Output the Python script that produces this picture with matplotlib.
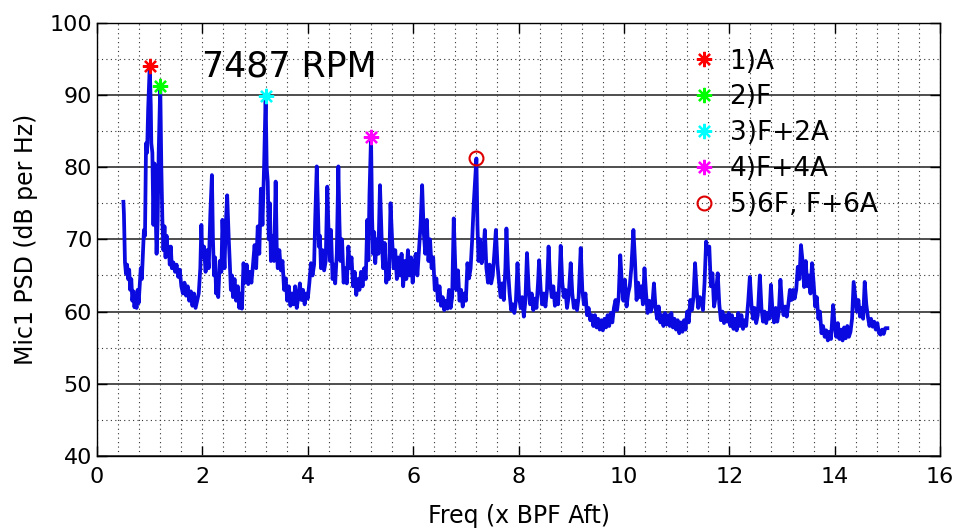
import matplotlib
matplotlib.use('Agg')
import matplotlib.pyplot as plt
from matplotlib.ticker import MultipleLocator

# PSD trace (x in multiples of aft BPF, y in dB per Hz)
freq = [0.50, 0.51, 0.52, 0.53, 0.55, 0.57, 0.59, 0.61, 0.63, 0.65, 0.67, 0.69, 0.71, 0.73, 0.75, 0.77,
        0.79, 0.81, 0.83, 0.85, 0.87, 0.89, 0.91, 0.93, 0.95, 0.97, 1.00, 1.02, 1.03, 1.05, 1.07, 1.09,
        1.11, 1.13, 1.15, 1.17, 1.20, 1.22, 1.24, 1.26, 1.28, 1.30, 1.32, 1.34, 1.36, 1.38, 1.40, 1.42,
        1.45, 1.48, 1.51, 1.54, 1.57, 1.60, 1.63, 1.66, 1.69, 1.72, 1.75, 1.78, 1.81, 1.84, 1.87, 1.90,
        1.93, 1.96, 1.98, 2.00, 2.03, 2.06, 2.09, 2.12, 2.15, 2.18, 2.20, 2.22, 2.24, 2.26, 2.28, 2.30,
        2.33, 2.36, 2.38, 2.40, 2.42, 2.44, 2.47, 2.50, 2.52, 2.54, 2.56, 2.58, 2.61, 2.64, 2.67, 2.70,
        2.73, 2.75, 2.78, 2.81, 2.84, 2.87, 2.90, 2.93, 2.96, 2.99, 3.02, 3.05, 3.08, 3.11, 3.14, 3.17,
        3.20, 3.22, 3.24, 3.26, 3.28, 3.30, 3.33, 3.36, 3.39, 3.41, 3.43, 3.46, 3.49, 3.52, 3.55, 3.58,
        3.61, 3.64, 3.67, 3.70, 3.73, 3.76, 3.79, 3.82, 3.85, 3.88, 3.91, 3.94, 3.97, 4.00, 4.03, 4.06,
        4.09, 4.12, 4.14, 4.17, 4.19, 4.21, 4.23, 4.25, 4.28, 4.31, 4.34, 4.37, 4.39, 4.42, 4.44, 4.47,
        4.50, 4.52, 4.55, 4.58, 4.60, 4.62, 4.65, 4.68, 4.71, 4.74, 4.77, 4.80, 4.83, 4.86, 4.89, 4.92,
        4.95, 4.98, 5.01, 5.04, 5.07, 5.10, 5.13, 5.15, 5.17, 5.20, 5.22, 5.24, 5.26, 5.28, 5.31, 5.34,
        5.37, 5.40, 5.43, 5.46, 5.49, 5.52, 5.54, 5.57, 5.60, 5.63, 5.66, 5.69, 5.72, 5.75, 5.78, 5.81,
        5.84, 5.87, 5.90, 5.93, 5.96, 5.99, 6.02, 6.05, 6.08, 6.11, 6.14, 6.17, 6.20, 6.23, 6.26, 6.29,
        6.32, 6.35, 6.38, 6.41, 6.44, 6.47, 6.50, 6.53, 6.56, 6.59, 6.62, 6.65, 6.68, 6.71, 6.74, 6.77,
        6.80, 6.82, 6.85, 6.88, 6.91, 6.94, 6.97, 7.00, 7.03, 7.06, 7.09, 7.12, 7.15, 7.20, 7.22, 7.24,
        7.27, 7.30, 7.33, 7.36, 7.39, 7.42, 7.45, 7.48, 7.51, 7.54, 7.57, 7.60, 7.63, 7.66, 7.69, 7.72,
        7.75, 7.77, 7.80, 7.83, 7.86, 7.89, 7.92, 7.95, 7.98, 8.01, 8.04, 8.07, 8.10, 8.13, 8.16, 8.19,
        8.22, 8.25, 8.28, 8.31, 8.34, 8.37, 8.39, 8.42, 8.45, 8.48, 8.51, 8.54, 8.57, 8.60, 8.63, 8.66,
        8.69, 8.72, 8.75, 8.78, 8.80, 8.83, 8.86, 8.89, 8.92, 8.95, 8.99, 9.02, 9.05, 9.08, 9.11, 9.14,
        9.18, 9.21, 9.24, 9.27, 9.30, 9.33, 9.36, 9.39, 9.42, 9.45, 9.48, 9.51, 9.54, 9.57, 9.60, 9.63,
        9.66, 9.69, 9.72, 9.75, 9.78, 9.81, 9.84, 9.87, 9.90, 9.93, 9.96, 9.99, 10.02, 10.05, 10.08, 10.11,
        10.14, 10.18, 10.21, 10.24, 10.27, 10.30, 10.33, 10.36, 10.39, 10.42, 10.45, 10.48, 10.51, 10.54,
        10.57, 10.60, 10.63, 10.66, 10.69, 10.72, 10.75, 10.78, 10.81, 10.84, 10.87, 10.90, 10.93, 10.96,
        10.99, 11.02, 11.05, 11.08, 11.11, 11.14, 11.17, 11.20, 11.23, 11.26, 11.29, 11.32, 11.35, 11.38,
        11.41, 11.44, 11.47, 11.50, 11.53, 11.56, 11.59, 11.62, 11.65, 11.68, 11.71, 11.74, 11.78, 11.81,
        11.84, 11.87, 11.90, 11.93, 11.96, 11.99, 12.02, 12.05, 12.08, 12.11, 12.14, 12.17, 12.20, 12.23,
        12.26, 12.29, 12.32, 12.36, 12.39, 12.42, 12.45, 12.48, 12.51, 12.54, 12.58, 12.61, 12.64, 12.67,
        12.70, 12.73, 12.76, 12.79, 12.82, 12.85, 12.88, 12.91, 12.94, 12.97, 13.00, 13.03, 13.06, 13.09,
        13.12, 13.15, 13.18, 13.21, 13.24, 13.27, 13.30, 13.33, 13.36, 13.39, 13.42, 13.45, 13.48, 13.51,
        13.54, 13.57, 13.60, 13.63, 13.66, 13.69, 13.72, 13.75, 13.78, 13.81, 13.84, 13.87, 13.90, 13.93,
        13.97, 14.00, 14.03, 14.06, 14.09, 14.12, 14.15, 14.18, 14.21, 14.24, 14.27, 14.30, 14.33, 14.36,
        14.39, 14.42, 14.45, 14.48, 14.51, 14.54, 14.57, 14.60, 14.63, 14.66, 14.69, 14.72, 14.75, 14.78,
        14.81, 14.84, 14.87, 14.90, 14.93, 14.96, 15.00]

psd = [75.2, 73.6, 70.0, 66.8, 65.2, 66.5, 64.5, 65.8, 63.0, 64.5, 61.5, 62.8, 60.6, 62.0, 60.5, 63.0,
       61.2, 63.5, 66.0, 64.5, 68.0, 71.3, 70.5, 83.3, 82.0, 88.0, 94.0, 88.5, 83.3, 82.0, 72.0, 80.5,
       74.0, 68.0, 72.5, 82.0, 91.3, 80.0, 72.7, 68.5, 71.8, 67.5, 70.5, 68.0, 69.0, 66.5, 69.0, 66.0,
       66.8, 65.5, 66.5, 64.8, 65.8, 63.5, 62.5, 64.0, 62.2, 63.5, 61.5, 62.8, 60.8, 62.5, 60.5, 61.5,
       62.5, 66.0, 72.0, 67.5, 69.0, 65.5, 68.5, 66.0, 73.5, 78.9, 70.0, 65.0, 67.5, 62.5, 64.0, 62.0,
       67.0, 65.5, 72.7, 69.0, 66.0, 71.5, 76.1, 70.0, 66.7, 63.0, 65.0, 62.0, 64.5, 61.5, 63.5, 60.5,
       62.5, 60.4, 66.7, 64.0, 66.5, 63.8, 65.5, 64.0, 66.5, 69.2, 66.0, 71.8, 68.0, 77.0, 72.0, 80.0,
       89.9, 80.0, 78.0, 70.0, 75.0, 67.0, 70.5, 67.0, 78.0, 69.0, 66.0, 68.5, 65.7, 67.0, 63.0, 64.6,
       61.5, 63.5, 60.8, 62.5, 61.0, 63.5, 60.5, 62.0, 63.9, 61.6, 63.0, 61.0, 62.5, 61.8, 64.0, 66.7,
       65.0, 66.5, 72.7, 80.1, 75.0, 69.0, 70.5, 66.0, 68.5, 65.7, 67.0, 77.3, 72.0, 67.0, 71.3, 64.5,
       66.5, 63.9, 68.0, 80.1, 72.5, 67.0, 70.0, 64.0, 66.0, 63.9, 69.0, 66.0, 67.5, 63.5, 65.5, 62.3,
       64.5, 63.0, 65.5, 63.5, 66.0, 64.5, 72.7, 67.1, 76.0, 84.2, 73.0, 68.0, 71.0, 66.7, 70.0, 68.0,
       77.5, 70.5, 66.0, 69.5, 64.0, 66.5, 64.5, 75.0, 70.0, 66.0, 68.5, 64.5, 67.5, 65.0, 68.0, 63.5,
       67.0, 64.5, 68.5, 65.0, 67.5, 64.0, 66.5, 68.0, 65.0, 68.5, 72.0, 77.5, 71.0, 68.0, 72.7, 67.0,
       70.0, 66.0, 67.5, 63.0, 64.6, 61.5, 63.5, 60.8, 62.0, 60.2, 61.5, 60.4, 63.0, 60.5, 62.0, 72.9,
       66.0, 63.0, 65.7, 61.5, 63.0, 60.7, 62.5, 61.5, 66.7, 64.6, 66.0, 70.0, 75.0, 81.2, 72.0, 67.0,
       70.0, 66.7, 68.0, 71.3, 66.0, 64.0, 66.5, 63.9, 65.0, 68.0, 71.3, 66.5, 64.0, 62.0, 63.9, 61.6,
       66.0, 71.5, 65.8, 62.5, 60.2, 61.0, 59.8, 61.5, 66.7, 62.0, 60.5, 62.0, 59.3, 61.5, 68.1, 63.4,
       61.0, 62.5, 60.2, 61.8, 60.5, 64.0, 67.1, 63.0, 61.0, 62.5, 60.7, 63.0, 69.0, 64.0, 62.0, 63.5,
       60.8, 62.5, 61.0, 65.0, 69.1, 64.0, 62.0, 63.0, 60.5, 62.0, 66.7, 62.5, 60.5, 61.5, 60.2, 62.0,
       68.8, 63.0, 61.0, 62.5, 59.5, 60.5, 58.8, 59.5, 58.0, 59.5, 57.8, 59.0, 57.5, 58.8, 57.4, 59.0,
       57.8, 59.5, 58.0, 59.8, 58.5, 60.5, 61.6, 60.2, 62.0, 67.8, 64.0, 61.5, 64.4, 60.7, 62.5, 63.5,
       66.0, 71.3, 67.0, 61.6, 64.0, 62.0, 63.5, 61.0, 66.0, 62.5, 59.8, 61.5, 60.0, 61.0,
       63.9, 60.5, 59.0, 60.7, 58.5, 59.5, 58.0, 59.8, 58.2, 59.5, 58.0, 59.8, 57.8, 59.0,
       57.5, 58.8, 57.0, 58.5, 57.2, 58.8, 57.5, 60.0, 58.5, 61.6, 60.2, 62.0, 66.7, 63.0,
       60.5, 62.0, 61.6, 60.2, 64.0, 69.7, 68.0, 69.0, 63.5, 65.3, 60.7, 62.0, 65.3, 61.0,
       58.8, 60.0, 58.4, 59.5, 58.6, 59.8, 58.0, 59.5, 57.6, 59.0, 57.4, 59.8, 58.0, 59.5,
       57.6, 58.8, 58.0, 61.5, 64.8, 61.0, 59.0, 60.5, 58.4, 59.5, 65.0, 60.5, 58.6, 60.0,
       58.4, 59.8, 59.0, 63.7, 60.0, 58.5, 60.5, 58.6, 60.0, 64.4, 61.0, 59.5, 60.7, 59.3,
       61.0, 63.0, 61.6, 63.0, 61.8, 63.0, 66.2, 64.5, 69.2, 67.0, 63.4, 67.0, 63.5, 65.0,
       62.5, 66.7, 64.0, 60.7, 62.0, 59.0, 60.0, 57.0, 58.0, 56.5, 57.4, 56.0, 57.2, 56.2,
       60.9, 58.0, 56.5, 58.4, 56.2, 57.5, 56.0, 57.8, 56.3, 58.0, 56.5, 57.2, 59.0, 64.1,
       62.0, 60.0, 61.6, 59.3, 60.5, 59.0, 64.1, 61.0, 59.3, 58.0, 59.0, 57.9, 58.6, 57.5,
       58.4, 57.0, 56.8, 57.5, 56.9, 57.7, 57.7]

# tagged tones
tone_freq = [1.0, 1.2, 3.2, 5.2, 7.2]
tone_psd = [94.0, 91.3, 89.9, 84.2, 81.2]
tone_labels = ['1)A', '2)F', '3)F+2A', '4)F+4A', '5)6F, F+6A']
tone_colors = ['#ff0000', '#00ff00', '#00ffff', '#ff00ff', '#dd0000']
tone_markers = [(8, 2, 0), (8, 2, 0), (8, 2, 0), (8, 2, 0), 'o']

x_ticks = [0, 2, 4, 6, 8, 10, 12, 14, 16]
y_ticks = [40, 50, 60, 70, 80, 90, 100]

fig = plt.figure(figsize=(9.57, 5.28), dpi=100)
ax = fig.add_axes([0.1014, 0.1364, 0.8809, 0.8206])

ax.plot(freq, psd, color='#0a0ae0', lw=2.7, zorder=3)

for f, p, lab, c, m in zip(tone_freq, tone_psd, tone_labels, tone_colors, tone_markers):
    if m == 'o':
        ax.plot(f, p, ls='none', marker=m, ms=10, mfc='none', mec=c, mew=1.5, label=lab, zorder=4)
    else:
        ax.plot(f, p, ls='none', marker=m, ms=11, mec=c, mew=1.6, label=lab, zorder=4)

ax.text(2.0, 92.5, '7487 RPM', fontsize=25, va='baseline', ha='left')

ax.set_xlim(0, 16)
ax.set_ylim(40, 100)
ax.set_xticks(x_ticks)
ax.set_yticks(y_ticks)
ax.xaxis.set_minor_locator(MultipleLocator(0.4))
ax.yaxis.set_minor_locator(MultipleLocator(5))
ax.tick_params(which='major', direction='in', top=True, right=True, length=7, labelsize=16, width=1)
ax.tick_params(axis='x', which='major', pad=8)
ax.tick_params(which='minor', length=0)

# matlab-ish grid: dotted minor everywhere, solid rules at the y majors
dots = (0, (1, 3))
ax.grid(True, which='minor', axis='both', ls=dots, color='0.2', lw=0.8)
ax.grid(True, which='major', axis='x', ls=dots, color='0.2', lw=0.8)
ax.grid(True, which='major', axis='y', ls='-', color='0.25', lw=1.3)
ax.set_axisbelow(True)
for s in ax.spines.values():
    s.set_color('k')
    s.set_linewidth(1.0)

ax.set_xlabel('Freq (x BPF Aft)', fontsize=17, labelpad=12)
ax.set_ylabel('Mic1 PSD (dB per Hz)', fontsize=17, labelpad=8)

ax.legend(frameon=False, loc='upper left', bbox_to_anchor=(0.708, 0.94), borderpad=0, borderaxespad=0,
          handlelength=0.8, handletextpad=0.55, labelspacing=0.37, fontsize=19, numpoints=1)

plt.savefig('out.png', dpi=100)
